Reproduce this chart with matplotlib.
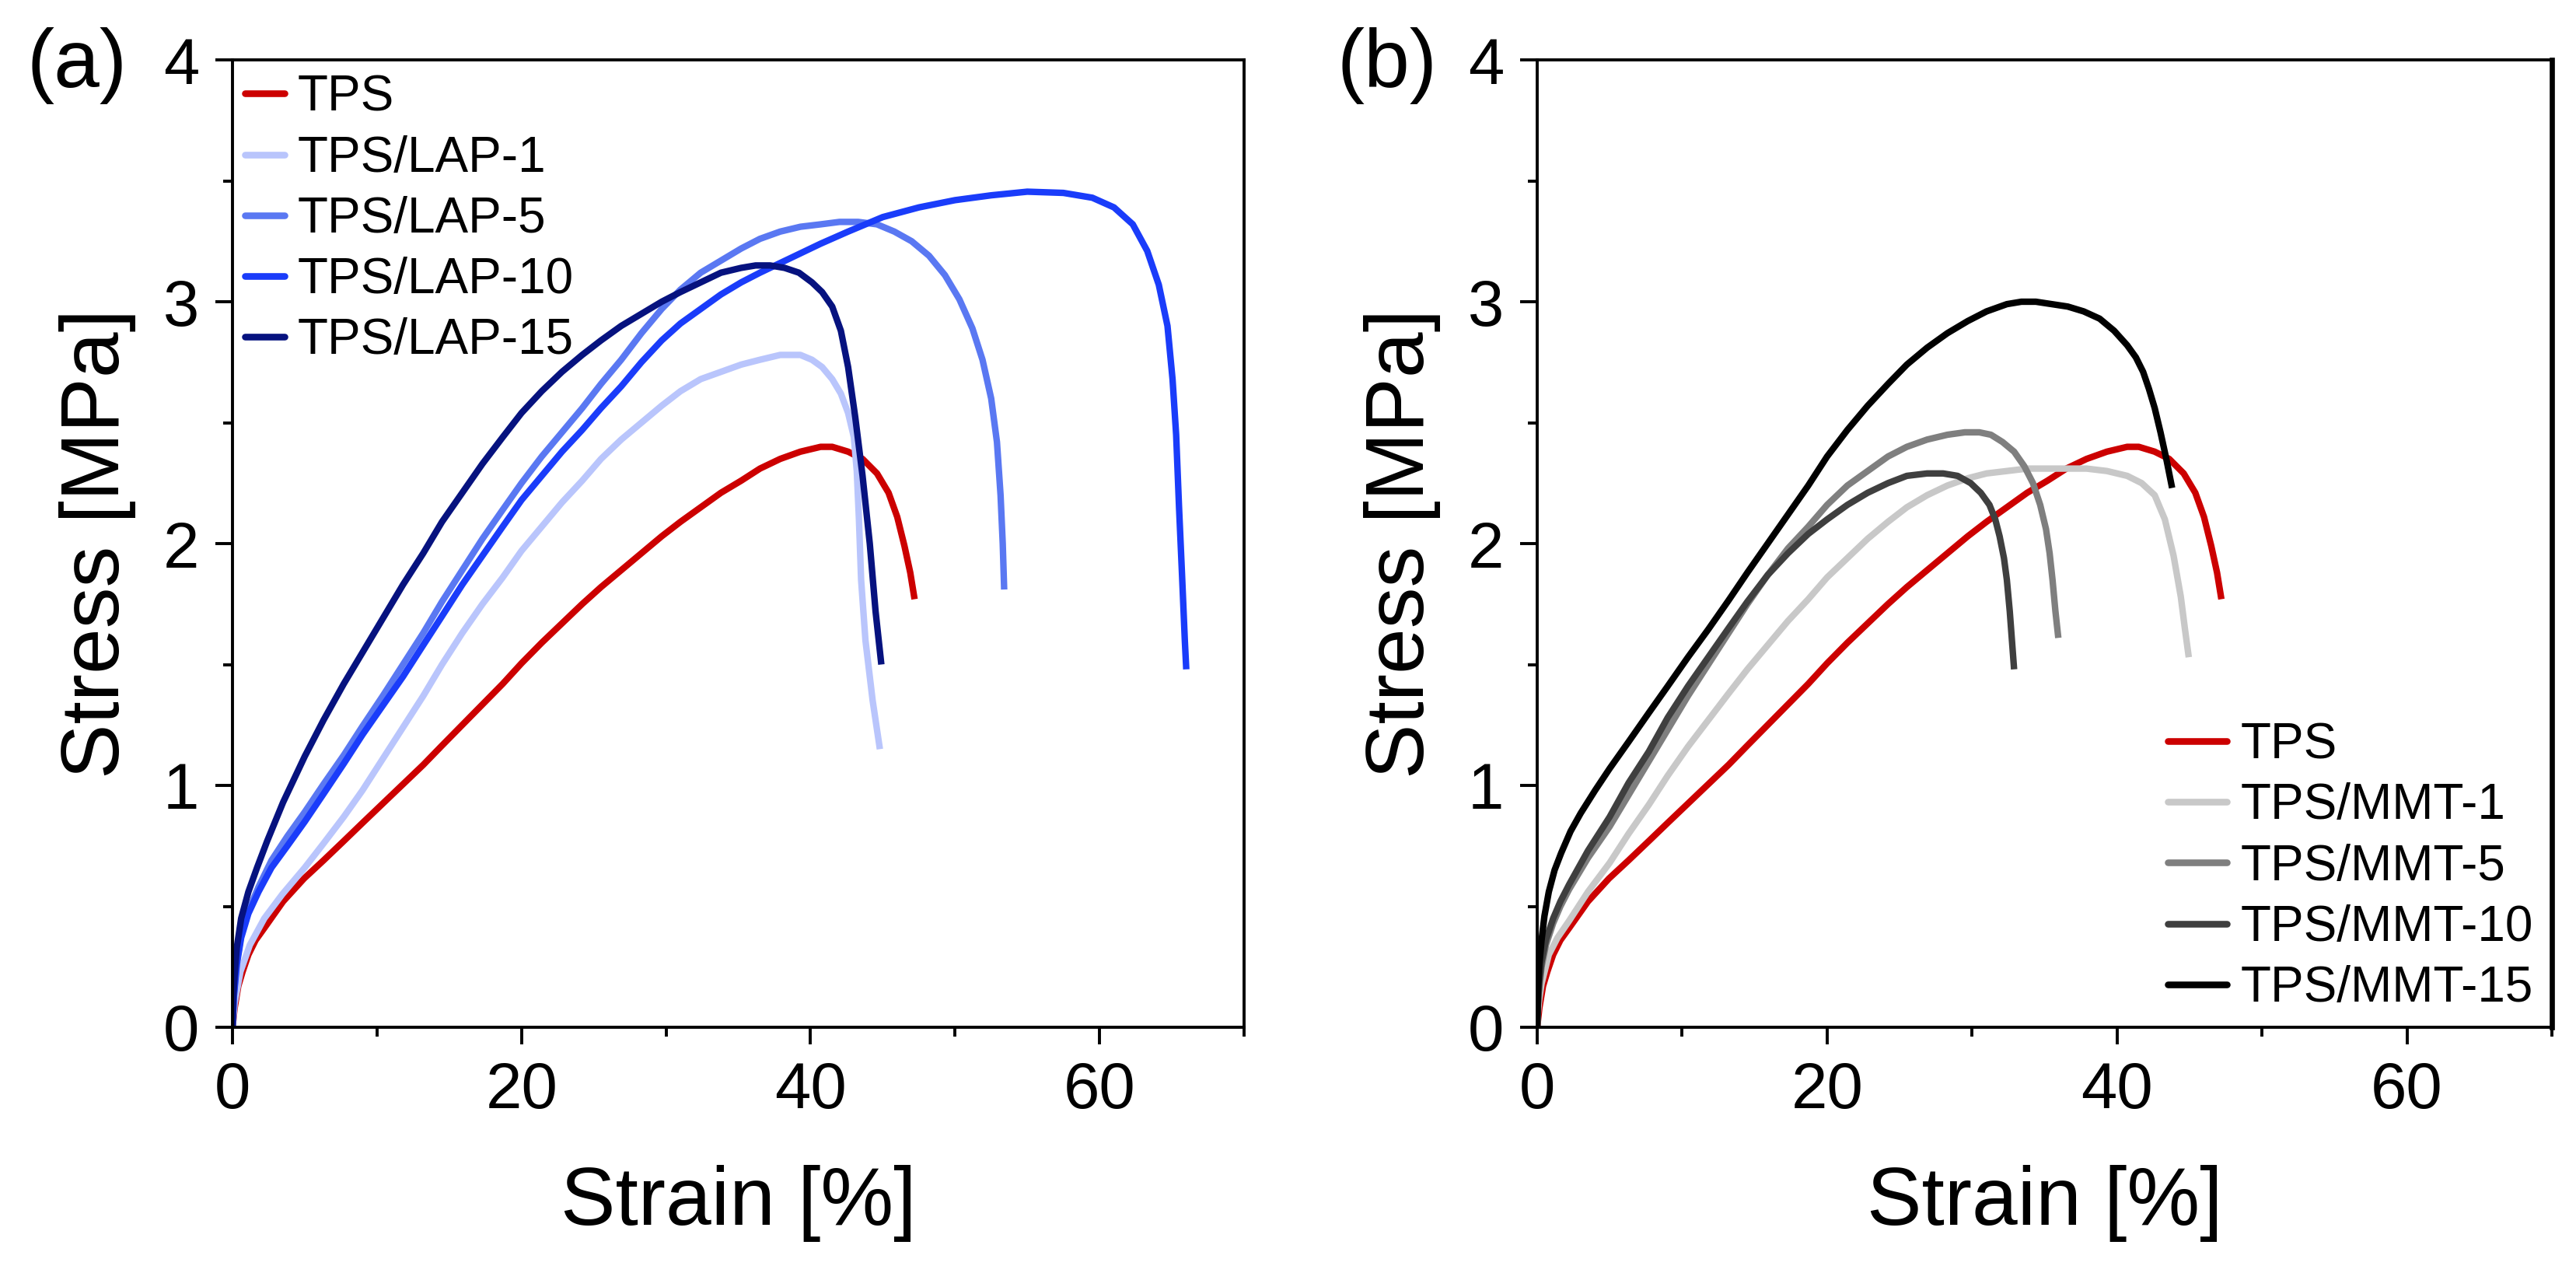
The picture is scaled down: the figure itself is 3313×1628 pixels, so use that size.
import matplotlib
matplotlib.use("Agg")
import matplotlib.pyplot as plt
from matplotlib.ticker import MultipleLocator

plt.rcParams['font.family'] = ['Liberation Sans', 'DejaVu Sans']

# ---------------- data (strain %, stress MPa) ----------------
tps_x = [0, 0.15, 0.4, 0.7, 1.1, 1.6, 2.2, 3.5, 4.95, 6.3, 7.7, 9, 10.4, 11.8, 13.2, 14.5, 15.9,
         17.3, 18.7, 20, 21.4, 22.8, 24.2, 25.5, 26.9, 28.3, 29.7, 31, 32.4, 33.8, 35.2, 36.5,
         37.9, 39.3, 40.7, 41.5, 42.6, 43.6, 44.6, 45.4, 46.0, 46.5, 46.9, 47.2]
tps_y = [0, 0.08, 0.17, 0.23, 0.30, 0.36, 0.41, 0.52, 0.615, 0.69, 0.77, 0.845, 0.925, 1.005,
         1.085, 1.165, 1.25, 1.335, 1.42, 1.505, 1.59, 1.67, 1.75, 1.82, 1.89, 1.96, 2.03, 2.09,
         2.15, 2.21, 2.26, 2.31, 2.35, 2.38, 2.40, 2.40, 2.38, 2.35, 2.29, 2.21, 2.11, 1.99, 1.88,
         1.77]

lap1_x = [0, 0.15, 0.55, 1.2, 2.2, 3.45, 5.0, 6.3, 7.7, 9, 10.4, 11.8, 13.2, 14.5, 15.9, 17.3,
          18.7, 20, 21.4, 22.8, 24.2, 25.5, 26.9, 28.3, 29.7, 31, 32.4, 33.8, 35.2, 36.5, 37.9,
          39.3, 40.1, 40.8, 41.5, 42.1, 42.6, 43.0, 43.2, 43.35, 43.5, 43.8, 44.3, 44.8]
lap1_y = [0, 0.10, 0.23, 0.34, 0.45, 0.55, 0.66, 0.76, 0.87, 0.98, 1.11, 1.24, 1.37, 1.50, 1.63,
          1.75, 1.86, 1.97, 2.07, 2.17, 2.26, 2.35, 2.43, 2.50, 2.57, 2.63, 2.68, 2.71, 2.74, 2.76,
          2.78, 2.78, 2.76, 2.73, 2.68, 2.62, 2.54, 2.44, 2.30, 2.10, 1.85, 1.60, 1.35, 1.15]

lap5_x = [0, 0.1, 0.3, 0.6, 1.1, 1.8, 2.7, 3.8, 5.0, 6.3, 7.7, 9, 10.4, 11.8, 13.2, 14.5, 15.9,
          17.3, 18.7, 20, 21.4, 22.8, 24.2, 25.5, 26.9, 28.3, 29.7, 31, 32.4, 33.8, 35.2, 36.5,
          37.9, 39.3, 40.7, 42, 43.3, 44.6, 45.8, 47, 48.2, 49.3, 50.3, 51.2, 51.9, 52.5, 52.9,
          53.15, 53.3, 53.4]
lap5_y = [0, 0.14, 0.27, 0.38, 0.48, 0.58, 0.69, 0.79, 0.89, 1.005, 1.125, 1.245, 1.37, 1.50,
          1.63, 1.76, 1.89, 2.02, 2.14, 2.25, 2.36, 2.46, 2.56, 2.66, 2.76, 2.87, 2.97, 3.05, 3.12,
          3.17, 3.22, 3.26, 3.29, 3.31, 3.32, 3.33, 3.33, 3.32, 3.29, 3.25, 3.19, 3.11, 3.01, 2.89,
          2.76, 2.60, 2.42, 2.20, 2.00, 1.81]

lap10_x = [0, 0.1, 0.3, 0.6, 1.1, 1.8, 2.7, 3.8, 5.0, 6.3, 7.7, 9, 10.4, 11.8, 13.2, 14.5, 15.9,
           17.3, 18.7, 20, 21.4, 22.8, 24.2, 25.5, 26.9, 28.3, 29.7, 31, 32.4, 33.8, 35.2, 36.5,
           37.9, 39.3, 40.7, 42.6, 45, 47.5, 50, 52.5, 55, 57.5, 59.5, 61, 62.3, 63.3, 64.1, 64.7,
           65.05, 65.3, 65.5, 65.7, 65.9, 66.0]
lap10_y = [0, 0.13, 0.26, 0.37, 0.47, 0.56, 0.66, 0.75, 0.85, 0.965, 1.09, 1.21, 1.33, 1.45,
           1.58, 1.70, 1.83, 1.95, 2.07, 2.18, 2.28, 2.38, 2.47, 2.56, 2.65, 2.75, 2.84, 2.91,
           2.97, 3.03, 3.08, 3.12, 3.16, 3.20, 3.24, 3.29, 3.35, 3.39, 3.42, 3.44, 3.455, 3.45,
           3.43, 3.39, 3.32, 3.21, 3.07, 2.90, 2.68, 2.45, 2.15, 1.88, 1.60, 1.48]

lap15_x = [0, 0.05, 0.15, 0.3, 0.6, 1.1, 1.7, 2.4, 3.5, 5.0, 6.3, 7.7, 9, 10.4, 11.8, 13.2, 14.5,
           15.9, 17.3, 18.7, 20, 21.4, 22.8, 24.2, 25.5, 26.9, 28.3, 29.7, 31, 32.4, 33.8, 35.2,
           36.2, 37.2, 38.2, 39.2, 40.1, 40.8, 41.5, 42.1, 42.6, 43.1, 43.6, 44.1, 44.5, 44.9]
lap15_y = [0, 0.12, 0.22, 0.33, 0.45, 0.56, 0.66, 0.77, 0.93, 1.12, 1.27, 1.42, 1.55, 1.69, 1.83,
           1.96, 2.09, 2.21, 2.33, 2.44, 2.54, 2.63, 2.71, 2.78, 2.84, 2.90, 2.95, 3.00, 3.04, 3.08,
           3.12, 3.14, 3.15, 3.15, 3.14, 3.12, 3.08, 3.04, 2.98, 2.88, 2.73, 2.52, 2.28, 2.00,
           1.72, 1.50]

mmt1_x = [0, 0.05, 0.15, 0.3, 0.8, 1.4, 2.2, 3.5, 5.0, 6.3, 7.7, 9, 10.4, 11.8, 13.2, 14.5, 15.9,
          17.3, 18.7, 20, 21.4, 22.8, 24.2, 25.5, 26.9, 28.3, 29.7, 31, 32.4, 33.8, 35.2, 36.5,
          37.9, 39.3, 40.7, 41.7, 42.6, 43.3, 43.9, 44.4, 44.7, 44.95]
mmt1_y = [0, 0.06, 0.12, 0.18, 0.30, 0.37, 0.44, 0.56, 0.68, 0.80, 0.92, 1.04, 1.16, 1.27, 1.38,
          1.48, 1.58, 1.68, 1.77, 1.86, 1.94, 2.02, 2.09, 2.15, 2.20, 2.24, 2.27, 2.29, 2.30, 2.31,
          2.31, 2.31, 2.31, 2.30, 2.28, 2.25, 2.20, 2.10, 1.95, 1.78, 1.64, 1.53]

mmt5_x = [0, 0.05, 0.15, 0.3, 0.6, 1.1, 1.6, 2.2, 3.5, 5.0, 6.3, 7.7, 9, 10.4, 11.8, 13.2, 14.5,
          15.9, 17.3, 18.7, 20, 21.4, 22.8, 24.2, 25.5, 26.9, 28.3, 29.5, 30.5, 31.3, 32.1, 32.9,
          33.6, 34.2, 34.7, 35.1, 35.35, 35.55, 35.75, 35.95]
mmt5_y = [0, 0.09, 0.17, 0.25, 0.34, 0.43, 0.50, 0.57, 0.70, 0.83, 0.96, 1.10, 1.23, 1.37, 1.50,
          1.63, 1.75, 1.87, 1.98, 2.07, 2.16, 2.24, 2.30, 2.36, 2.40, 2.43, 2.45, 2.46, 2.46, 2.45,
          2.42, 2.38, 2.32, 2.25, 2.16, 2.06, 1.96, 1.85, 1.72, 1.61]

mmt10_x = [0, 0.05, 0.15, 0.3, 0.6, 1.1, 1.6, 2.2, 3.5, 5.0, 6.3, 7.7, 9, 10.4, 11.8, 13.2, 14.5,
           15.9, 17.3, 18.7, 20, 21.4, 22.8, 24.2, 25.5, 26.9, 28.0, 29.0, 29.9, 30.6, 31.2, 31.6,
           31.9, 32.2, 32.4, 32.6, 32.75, 32.9]
mmt10_y = [0, 0.10, 0.19, 0.27, 0.36, 0.45, 0.52, 0.59, 0.73, 0.87, 1.01, 1.14, 1.28, 1.41, 1.53,
           1.65, 1.76, 1.87, 1.96, 2.04, 2.10, 2.16, 2.21, 2.25, 2.28, 2.29, 2.29, 2.28, 2.25, 2.21,
           2.16, 2.10, 2.03, 1.94, 1.85, 1.72, 1.60, 1.48]

mmt15_x = [0, 0.05, 0.15, 0.3, 0.5, 0.8, 1.2, 1.65, 2.3, 3.0, 4.0, 5.0, 6.3, 7.7, 9, 10.4, 11.8,
           13.2, 14.5, 15.9, 17.3, 18.7, 20, 21.4, 22.8, 24.2, 25.5, 26.9, 28.3, 29.7, 31, 32.4,
           33.4, 34.4, 35.5, 36.6, 37.7, 38.8, 39.8, 40.7, 41.3, 41.8, 42.2, 42.6, 43.0, 43.4, 43.8]
mmt15_y = [0, 0.14, 0.26, 0.36, 0.46, 0.56, 0.65, 0.72, 0.81, 0.885, 0.98, 1.07, 1.18, 1.30,
           1.41, 1.53, 1.645, 1.765, 1.88, 2.00, 2.12, 2.24, 2.36, 2.47, 2.57, 2.66, 2.74, 2.81,
           2.87, 2.92, 2.96, 2.99, 3.00, 3.00, 2.99, 2.98, 2.96, 2.93, 2.88, 2.82, 2.77, 2.71, 2.64,
           2.56, 2.46, 2.35, 2.23]

labels_a = ['TPS', 'TPS/LAP-1', 'TPS/LAP-5', 'TPS/LAP-10', 'TPS/LAP-15']
labels_b = ['TPS', 'TPS/MMT-1', 'TPS/MMT-5', 'TPS/MMT-10', 'TPS/MMT-15']
colors_a = ['#cc0000', '#b9c5fc', '#5a78f2', '#1a3cfa', '#06127f']
colors_b = ['#cc0000', '#c8c8c8', '#7f7f7f', '#3f3f3f', '#000000']
series_a = [(tps_x, tps_y), (lap1_x, lap1_y), (lap5_x, lap5_y), (lap10_x, lap10_y), (lap15_x, lap15_y)]
series_b = [(tps_x, tps_y), (mmt1_x, mmt1_y), (mmt5_x, mmt5_y), (mmt10_x, mmt10_y), (mmt15_x, mmt15_y)]

# ---------------- figure ----------------
W, H = 3313, 1628
DPI = 200
fig = plt.figure(figsize=(W / DPI, H / DPI), dpi=DPI)

def px_axes(l, t, r, b):
    return fig.add_axes([l / W, 1 - b / H, (r - l) / W, (b - t) / H])

ax_a = px_axes(299, 77, 1600, 1321)
ax_b = px_axes(1977, 77, 3282, 1321)

LW = 3.0
for ax, series, cols, labs in [(ax_a, series_a, colors_a, labels_a), (ax_b, series_b, colors_b, labels_b)]:
    for (x, y), c, lab in zip(series, cols, labs):
        ax.plot(x, y, color=c, lw=LW, label=lab, solid_capstyle='butt', solid_joinstyle='round')
    ax.set_xlim(0, 70)
    ax.set_ylim(0, 4)
    ax.xaxis.set_major_locator(MultipleLocator(20))
    ax.xaxis.set_minor_locator(MultipleLocator(10))
    ax.yaxis.set_major_locator(MultipleLocator(1))
    ax.yaxis.set_minor_locator(MultipleLocator(0.5))
    ax.tick_params(which='major', direction='out', length=7.9, width=1.4, labelsize=30, pad=7.5,
                   top=False, right=False)
    ax.tick_params(which='minor', direction='out', length=4.3, width=1.4, top=False, right=False)
    for s in ax.spines.values():
        s.set_linewidth(1.4)
    ax.set_xlabel('Strain [%]', fontsize=38)
    ax.set_ylabel('Stress [MPa]', fontsize=38)
    ax.xaxis.set_label_coords(0.5, -0.142)
    ax.yaxis.set_label_coords(-0.095, 0.5)

ax_b.spines['right'].set_linewidth(2.4)

leg_a = ax_a.legend(loc='upper left', bbox_to_anchor=(0.0123, 0.985), frameon=False, fontsize=23,
                    borderpad=0, borderaxespad=0, handlelength=0.8, handletextpad=0.26,
                    labelspacing=0.285)
leg_b = ax_b.legend(loc='lower right', bbox_to_anchor=(0.9816, 0.016), frameon=False, fontsize=23,
                    borderpad=0, borderaxespad=0, handlelength=1.2, handletextpad=0.27,
                    labelspacing=0.285)
for leg in (leg_a, leg_b):
    for h in leg.get_lines():
        h.set_solid_capstyle('round')
        h.set_linewidth(3.1)

fig.text(34 / W, 1 - 84 / H, '(a)', fontsize=38, ha='left', va='center')
fig.text(1719 / W, 1 - 84 / H, '(b)', fontsize=38, ha='left', va='center')

fig.savefig('out.png', dpi=DPI)
